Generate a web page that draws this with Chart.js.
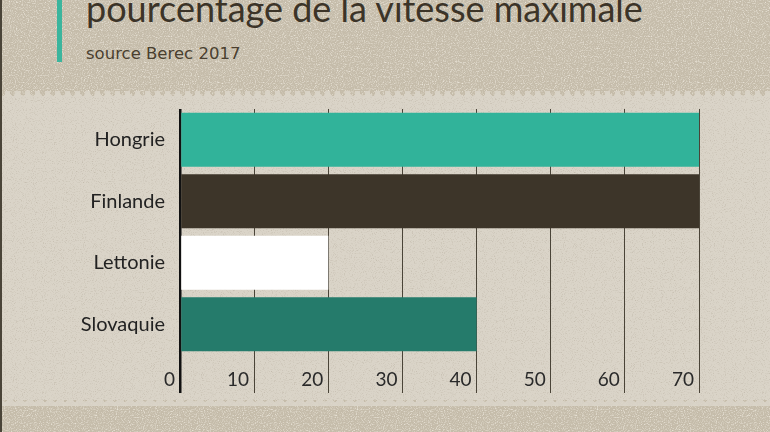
<!DOCTYPE html>
<html>
<head>
<meta charset="utf-8">
<script src="https://cdn.jsdelivr.net/npm/chart.js@4/dist/chart.umd.min.js"></script>
<style>
  html, body { margin: 0; padding: 0; }
  body {
    width: 770px; height: 432px; overflow: hidden; position: relative;
    background-color: #c5bcaa;
    background-image: url("data:image/svg+xml,%3Csvg xmlns='http://www.w3.org/2000/svg' width='240' height='240'%3E%3Cfilter id='n'%3E%3CfeTurbulence type='fractalNoise' baseFrequency='0.85' numOctaves='2' stitchTiles='stitch'/%3E%3CfeColorMatrix values='0 0 0 0 1 0 0 0 0 0.97 0 0 0 0 0.9 1.6 0 0 0 -0.75'/%3E%3C/filter%3E%3Crect width='100%25' height='100%25' filter='url(%23n)'/%3E%3C/svg%3E");
  }
  .edge { position: absolute; left: 0; top: 0; width: 2px; height: 432px; background: #4a4438; }
  .panel {
    position: absolute; left: 0; right: 0; top: 97px; height: 303px;
    background-color: #dad4c8;
    background-image: url("data:image/svg+xml,%3Csvg xmlns='http://www.w3.org/2000/svg' width='240' height='240'%3E%3Cfilter id='n'%3E%3CfeTurbulence type='fractalNoise' baseFrequency='0.9' numOctaves='2' stitchTiles='stitch'/%3E%3CfeColorMatrix values='0 0 0 0 0.45 0 0 0 0 0.4 0 0 0 0 0.32 1.4 0 0 0 -0.72'/%3E%3C/filter%3E%3Crect width='100%25' height='100%25' filter='url(%23n)'/%3E%3C/svg%3E");
  }
  .panel::before, .panel::after {
    content: ''; position: absolute; left: 0; right: 0; height: 6px;
    background-size: 10px 6px;
  }
  .panel::before {
    top: -6px;
    background-image: linear-gradient(135deg, transparent 50%, rgba(218,212,200,0.9) 50%),
                      linear-gradient(225deg, transparent 50%, rgba(218,212,200,0.9) 50%);
    background-position: 0 0, 5px 0;
  }
  .panel::after {
    bottom: -6px;
    background-image: linear-gradient(45deg, transparent 50%, rgba(218,212,200,0.9) 50%),
                      linear-gradient(315deg, transparent 50%, rgba(218,212,200,0.9) 50%);
    transform: scaleY(-1);
  }
  .accent { position: absolute; left: 57px; top: 0; width: 5px; height: 62px; background: #3bb59d; }
  .title {
    position: absolute; left: 86px; top: -14px;
    font-family: Lato, sans-serif; font-size: 36px; color: #3c3428; white-space: nowrap;
  }
  .subtitle {
    position: absolute; left: 86px; top: 44px;
    font-family: "DejaVu Sans", sans-serif; font-size: 16.5px; color: #4a3f2f; white-space: nowrap;
  }
  canvas { position: absolute; left: 0; top: 0; }
</style>
</head>
<body>
<div class="panel"></div>
<div class="edge"></div>
<div class="accent"></div>
<div class="title">pourcentage de la vitesse maximale</div>
<div class="subtitle">source Berec 2017</div>
<canvas id="chart" width="770" height="432"></canvas>
<script>
  const countries = ['Hongrie', 'Finlande', 'Lettonie', 'Slovaquie'];
  const values = [70, 70, 20, 40];
  const barColors = ['#31b39a', '#3d3529', '#ffffff', '#257b6b'];
  const xTicks = [0, 10, 20, 30, 40, 50, 60, 70];

  const ctx = document.getElementById('chart');

  new Chart(ctx, {
    type: 'bar',
    data: {
      labels: countries,
      datasets: [{
        data: values,
        backgroundColor: barColors,
        borderWidth: 0,
        barPercentage: 0.88,
        categoryPercentage: 1
      }]
    },
    options: {
      indexAxis: 'y',
      responsive: false,
      animation: false,
      events: [],
      layout: { padding: { top: 109, right: 71, bottom: 0, left: 0 } },
      scales: {
        x: {
          min: 0,
          max: 70,
          afterBuildTicks: (scale) => { scale.ticks = xTicks.map((v) => ({ value: v })); },
          afterFit: (scale) => { scale.height = 77; },
          grid: {
            color: (c) => (c.tick && c.tick.value === 0 ? '#111' : '#4a4438'),
            lineWidth: (c) => (c.tick && c.tick.value === 0 ? 2.5 : 1),
            tickLength: 38
          },
          border: { display: false },
          ticks: {
            align: 'end',
            labelOffset: -5,
            padding: -25,
            color: '#2a2a2a',
            font: { family: 'Lato', size: 19 }
          }
        },
        y: {
          afterFit: (scale) => { scale.width = 180; },
          grid: { display: false },
          border: { display: false },
          ticks: {
            padding: 7,
            color: '#222',
            font: { family: 'Lato', size: 20 }
          }
        }
      },
      plugins: {
        legend: { display: false },
        tooltip: { enabled: false }
      }
    }
  });
</script>
</body>
</html>
